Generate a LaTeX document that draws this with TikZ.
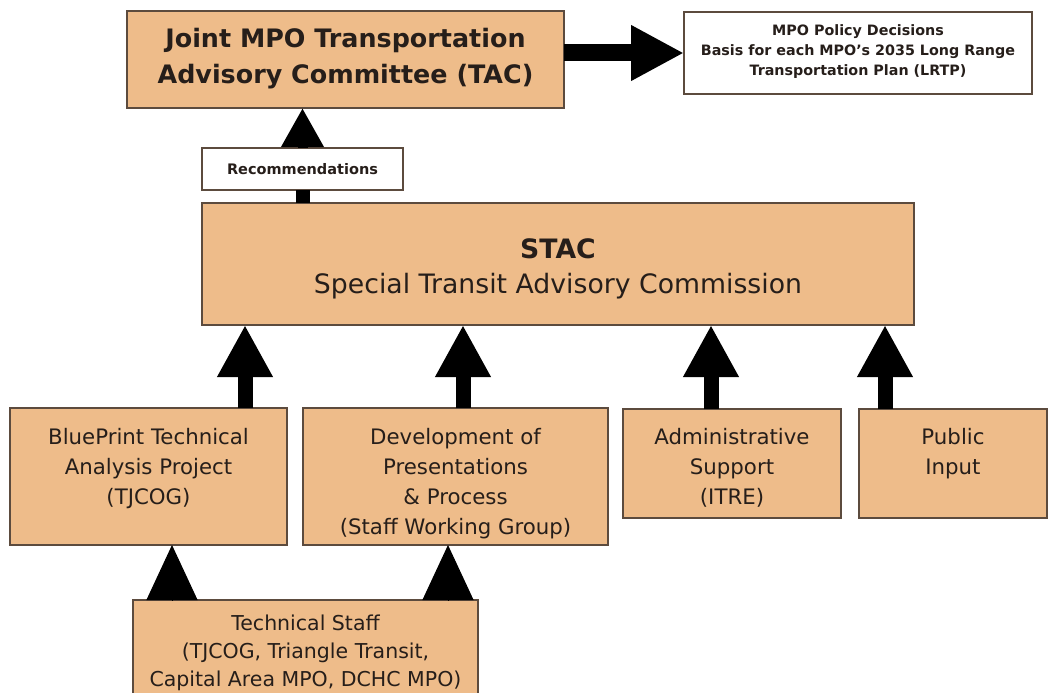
\documentclass[tikz,border=0pt]{standalone}
\usepackage{fontspec}
\setmainfont{DejaVu Sans}
\usetikzlibrary{arrows.meta}
\definecolor{boxfill}{RGB}{238,188,138}
\definecolor{boxedge}{RGB}{92,75,62}
\definecolor{ink}{RGB}{38,30,26}
% fixed-size text block: width, height, first baseline, font, lines
\newcommand\boxtxt[5]{\parbox[t][#2][t]{#1}{#4\centering\rule{0pt}{#3}#5}}
\tikzset{
  tanbox/.style={draw=boxedge, fill=boxfill, text=ink, line width=2.5pt, inner sep=0pt, outer sep=0pt, anchor=north west},
  whitebox/.style={draw=boxedge, fill=white, text=ink, line width=2pt, inner sep=0pt, outer sep=0pt, anchor=north west},
  bigarrow/.style={line width=15pt, -{Triangle[length=52pt,width=52pt]}},
  headonly/.style={line width=1pt, -{Triangle[length=55pt,width=51pt]}},
}
\begin{document}
\begin{tikzpicture}[x=1pt,y=-1pt]
\useasboundingbox (0,0) rectangle (1050,693);
\clip (0,0) rectangle (1050,693);
\fill[white] (0,0) rectangle (1050,693);

% top row
\node[tanbox] (tac) at (127,11)
  {\boxtxt{437pt}{97pt}{37pt}{\fontsize{25.4}{36}\selectfont\bfseries}{Joint MPO Transportation\\Advisory Committee (TAC)}};
\node[whitebox] (mpo) at (684,12)
  {\boxtxt{348pt}{82pt}{24pt}{\fontsize{14.3}{20}\selectfont\bfseries}{MPO Policy Decisions\\Basis for each MPO's 2035 Long Range\\Transportation Plan (LRTP)}};

% commission
\node[tanbox] (stac) at (202,203)
  {\boxtxt{712pt}{122pt}{55pt}{\fontsize{26.7}{35}\selectfont}{\textbf{STAC}\\Special Transit Advisory Commission}};
\node[whitebox] (rec) at (202,148)
  {\boxtxt{201pt}{42pt}{26pt}{\fontsize{14.5}{15}\selectfont\bfseries}{Recommendations}};

% contributing groups
\node[tanbox] (b1) at (10,408)
  {\boxtxt{277pt}{137pt}{36pt}{\fontsize{21.3}{30}\selectfont}{BluePrint Technical\\Analysis Project\\(TJCOG)}};
\node[tanbox] (b2) at (303,408)
  {\boxtxt{305pt}{137pt}{36pt}{\fontsize{21.3}{30}\selectfont}{Development of\\Presentations\\\& Process\\(Staff Working Group)}};
\node[tanbox] (b3) at (623,409)
  {\boxtxt{218pt}{109pt}{35pt}{\fontsize{21.3}{30}\selectfont}{Administrative\\Support\\(ITRE)}};
\node[tanbox] (b4) at (859,409)
  {\boxtxt{188pt}{109pt}{35pt}{\fontsize{21.3}{30}\selectfont}{Public\\Input}};

\node[tanbox] (tech) at (133,600)
  {\boxtxt{345pt}{110pt}{30pt}{\fontsize{20.5}{28}\selectfont}{Technical Staff\\(TJCOG, Triangle Transit,\\Capital Area MPO, DCHC MPO)}};

% arrow columns
\coordinate (c1) at (245,0);
\coordinate (c2) at (463,0);
\coordinate (c3) at (711,0);
\coordinate (c4) at (885,0);
\coordinate (c5) at (172,0);
\coordinate (c6) at (448,0);

% connectors
\draw[line width=17pt, -{Triangle[length=53pt,width=52pt]}] (tac.east |- mpo.west) -- (mpo.west);
\draw[line width=14pt] (rec.south |- stac.north) -- (rec.south);
\draw[line width=10pt, -{Triangle[length=39pt,width=40pt]}] (rec.north) -- (tac.south -| rec.north);
\draw[bigarrow] (b1.north -| c1) -- (stac.south -| c1);
\draw[bigarrow] (b2.north -| c2) -- (stac.south -| c2);
\draw[bigarrow] (b3.north -| c3) -- (stac.south -| c3);
\draw[bigarrow] (b4.north -| c4) -- (stac.south -| c4);
\draw[headonly] (tech.north -| c5) -- (b1.south -| c5);
\draw[headonly] (tech.north -| c6) -- (b2.south -| c6);
\end{tikzpicture}
\end{document}
